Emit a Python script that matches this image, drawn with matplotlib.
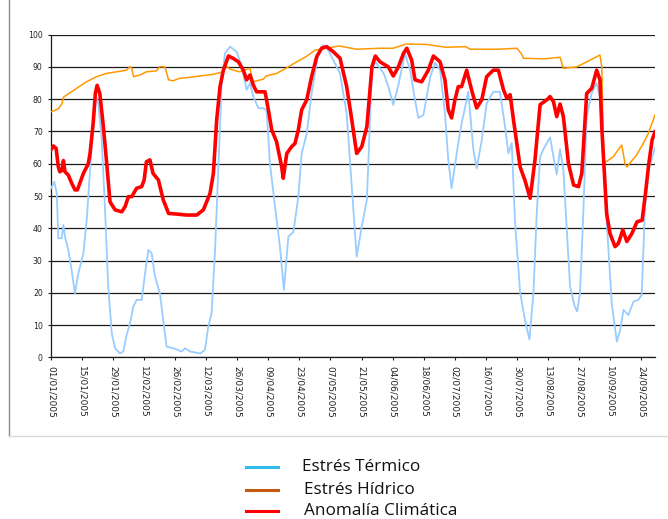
import numpy as np
import matplotlib
matplotlib.use("Agg")
import matplotlib.pyplot as plt
from matplotlib.lines import Line2D

# ---- data (day offsets from 01/01/2005) ----
termico_days = [0, 1.5, 2.6, 3.3, 4.8, 5.6, 6.3, 7.8, 9.3, 10.8, 12.3, 14.6, 16.1, 17.6, 19, 20.3, 21.3,
                22.8, 24.3, 25.8, 27.4, 28.9, 31.1, 32.6, 34.1, 35.6, 37.1, 38.6, 40.9, 42.4, 43.9, 45.4,
                46.9, 49.1, 50.6, 52.1, 55.2, 58.9, 60.4, 62.7, 67.2, 69.4, 70.9, 72.4, 73.9, 75.4, 76.9,
                78.4, 80.7, 83.7, 86, 88.2, 89.7, 91.2, 93.5, 95.7, 97.2, 98.7, 101, 103.2, 105, 107,
                109.3, 111.5, 113, 115.3, 117.5, 120.5, 122.8, 125, 127.3, 130.3, 133.3, 135.6, 137.8,
                140.1, 142.4, 144.7, 146.2, 150, 152.1, 154.3, 156.6, 159.6, 161.9, 164.1, 165.6, 167.9,
                171, 173.2, 175.4, 177.6, 179.1, 180.6, 182.9, 185.1, 186.6, 188.1, 190.4, 191.9, 194.2,
                196.4, 199.4, 202.4, 204.7, 206.2, 207.7, 209.2, 211.5, 213.7, 215.7, 217.5, 219, 220.5,
                222, 225, 226.5, 228, 229.5, 231, 232.5, 234, 236, 237.2, 238.5, 240, 241.5, 243.8, 246,
                247.5, 249, 250.5, 252.8, 255.1, 256.6, 258.1, 260.3, 262.6, 264.8, 266.3, 267.8, 269.3,
                272.3]
termico_vals = [52.4, 54.4, 50.8, 36.9, 36.9, 41, 37.4, 33.3, 27, 19.8, 26, 32.2, 42.6, 58, 71.5, 80.8, 78.7,
                68.4, 46.7, 21.9, 7.4, 2.8, 1.2, 1.8, 6.9, 10.5, 15.7, 17.8, 17.8, 26, 33.3, 32.2,
                25, 19.8, 11.6, 3.3, 2.8, 1.8, 2.8, 1.8, 1.2, 2.3, 9.5, 13.6, 32.2, 58, 83.9,
                94.2, 96.3, 94.7, 90.1, 82.9, 85, 80.8, 77.2, 77.2, 76.7, 60.1, 46.7, 34.3, 20.9, 37.4,
                38.9, 49.8, 63.2, 69.4, 81.8, 94.2, 96.8, 95.2, 92.1, 88, 75.6, 52.9, 31.2,
                40.5, 48.8, 89, 91.6, 88, 83.9, 78.2, 84.4, 94.2, 89, 79.8, 74.2, 75.1,
                87, 91.3, 89, 75.6, 61.2, 52.4, 63.2, 72.5, 77.2, 82.3, 64.5, 58.6, 67.4,
                78.7, 82.3, 82.3, 71.5, 63.2, 66.4, 42, 20, 11.5, 5.5, 20, 45, 62,
                64.5, 68.2, 62.2, 56.7, 64.5, 58, 40, 22, 16, 14.2, 20, 45, 74.6, 82, 85,
                80.8, 60, 42.5, 16.7, 4.9, 8.5, 14.7, 13.1, 17.3, 17.8, 19.3, 46.7, 58,
                64.8]

hidrico_days = [0, 3.3, 5, 5.6, 7, 11.6, 16, 20.6, 25, 29.6, 34, 35.6, 36.4, 37.2, 40, 43, 47.6, 49, 51.4,
                53, 55, 58, 62.7, 67, 73, 77.7, 79, 80.7, 85, 89.7, 91, 95.7, 97, 101.7, 106, 110.8,
                115, 119, 124, 130, 137.8, 148.3, 154.3, 160, 169, 178, 186.9, 189, 201.9, 210, 212,
                213, 222, 229.5, 231, 237, 241.5, 247.5, 248.3, 249.2, 253.5, 257.3, 258.8, 259.6,
                264, 267, 269.3, 272.3]
hidrico_vals = [76.1, 77, 78.7, 80.6, 81.3, 83.4, 85.4, 87, 88, 88.5, 89, 90.1, 89.6, 87, 87.5, 88.5, 88.8,
                90.1, 90, 86, 85.7, 86.5, 86.8, 87.2, 87.7, 88.5, 90.3, 89.3, 88.5, 89.6, 85.4, 86.2,
                87.2, 88, 89.6, 91.6, 93.2, 95.2, 95.8, 96.5, 95.5, 95.8, 95.8, 97.1, 97, 96.1, 96.3,
                95.5, 95.5, 95.8, 94.2, 92.7, 92.5, 93, 89.6, 90, 91.6, 93.7, 90, 60.1, 62.2, 65.8,
                60, 59, 62.7, 66.3, 69.4, 75.1]

anomalia_days = [0, 1, 2.3, 3.3, 4, 5, 5.6, 6.3, 7.8, 9.3, 10.8, 11.9, 13, 14.6, 16.8, 17.6, 19, 20, 20.8,
                 22, 23.6, 25, 26.6, 28.9, 31.9, 33.4, 34.9, 36.4, 38.6, 40.9, 42, 43, 44.6, 46, 48.4,
                 50.6, 53, 56.7, 61, 65.7, 68.7, 71.7, 73.2, 74.7, 76.2, 77.7, 80, 82, 84.5, 86.7, 88.2,
                 89.7, 91.2, 92.7, 95, 96.5, 98, 99.5, 101.7, 104, 104.7, 106.3, 108.5, 110, 111.5, 113,
                 115.3, 117.5, 119.8, 122, 124.3, 127.3, 130.3, 133.3, 135.6, 137.8, 140.1, 142.4,
                 144.7, 146.2, 148.3, 152.1, 154.3, 156.6, 158.9, 160.4, 162.6, 164.1, 167.1, 170.1,
                 172.4, 175.4, 177.6, 179.1, 180.6, 182.1, 183.6, 185.1, 187.4, 189.6, 191.9, 194.2,
                 196.4, 199.4, 201.7, 204, 205.5, 207, 208.5, 211.5, 213.7, 216, 218.2, 220.5, 223.5,
                 225, 226.5, 228, 229.5, 231, 233.3, 235.6, 237.8, 239.3, 241.5, 243.8, 246, 247.5,
                 248.3, 250.5, 252, 254.3, 255.8, 257.8, 259.6, 261.9, 264.2, 266.5, 268, 269.5, 271,
                 272.3]
anomalia_vals = [64.3, 65.5, 64.8, 59, 57.5, 58, 61, 57.5, 56.5, 54, 51.9, 51.9, 54, 57, 60, 63.2, 72.5,
                 81.8, 84.3, 81.8, 71.5, 61, 48.2, 45.7, 45.1, 46.7, 49.8, 49.8, 52.4, 52.9, 55, 60.6,
                 61.2, 57, 55, 48.8, 44.6, 44.4, 44.1, 44.1, 45.7, 50.8, 57, 73.6, 83.9, 89, 93.4,
                 92.7, 91.6, 89, 86, 87.5, 84.4, 82.3, 82.3, 82.3, 76.7, 70.5, 66.8, 59, 55.5, 63.2,
                 65.3, 66.3, 70.5, 76.7, 79.8, 87, 93.2, 95.8, 96.3, 94.7, 92.7, 83.9, 73.6, 63.2,
                 65.3, 71.5, 90.1, 93.4, 91.6, 90, 87.2, 90, 94.2, 95.8, 92.1, 86, 85.4, 89, 93.4,
                 91.6, 86, 76.7, 74.2, 79.8, 83.9, 83.9, 89, 82.9, 77.3, 79.8, 87, 89, 89, 82.9,
                 80.3, 81.4, 73.6, 59, 54.8, 49.3, 61.2, 78.3, 79.8, 80.8, 79.3, 74.6, 78.5, 74.6,
                 60, 53.4, 52.9, 57, 81.8, 83.4, 89, 86, 71.5, 44.6, 38.4, 34.3, 35.3, 39.5, 35.9,
                 38.4, 42, 42.5, 50.8, 60, 67.4, 69.9]

tick_days = [0, 14, 28, 42, 56, 70, 84, 98, 112, 126, 140, 154, 168, 182, 196, 210, 224, 238, 252, 266]
tick_labels = ["01/01/2005", "15/01/2005", "29/01/2005", "12/02/2005", "26/02/2005", "12/03/2005",
               "26/03/2005", "09/04/2005", "23/04/2005", "07/05/2005", "21/05/2005", "04/06/2005",
               "18/06/2005", "02/07/2005", "16/07/2005", "30/07/2005", "13/08/2005", "27/08/2005",
               "10/09/2005", "24/09/2005"]
series_names = ["Estrés Térmico", "Estrés Hídrico", "Anomalía Climática"]

# ---- figure ----
W, H = 668, 519
fig = plt.figure(figsize=(W / 100, H / 100), dpi=100)
ax = fig.add_axes([51 / W, 1 - 357.3 / H, 604 / W, (357.3 - 34.7) / H])

ax.plot(termico_days, termico_vals, color="#99CCFF", lw=1.3, zorder=3)
ax.plot(hidrico_days, hidrico_vals, color="#FF9900", lw=1.1, zorder=4)
ax.plot(anomalia_days, anomalia_vals, color="#FF0000", lw=2.6, zorder=5)

ax.set_xlim(0, 272.3)
ax.set_ylim(0, 100)
ax.set_yticks(range(0, 101, 10))
ax.set_xticks(tick_days)
ax.set_xticklabels(tick_labels, rotation=-90, fontsize=6.5, family="DejaVu Sans", color="#222222")
ax.tick_params(axis="y", labelsize=5.6, length=2, width=0.8, pad=4, colors="#222222")
ax.tick_params(axis="x", length=2.5, width=0.8, pad=4, colors="#222222")
ax.yaxis.grid(True, color="#1a1a1a", lw=0.9)
ax.set_axisbelow(True)
for s in ("top", "right"):
    ax.spines[s].set_visible(False)
for s in ("left", "bottom"):
    ax.spines[s].set_color("#1a1a1a")
    ax.spines[s].set_linewidth(0.9)

# chart-area border lines (left and bottom)
fig.add_artist(Line2D([9 / W, 9 / W], [1, 1 - 436 / H], color="#8a8a8a", lw=1.0))
fig.add_artist(Line2D([9 / W, 1], [1 - 436 / H, 1 - 436 / H], color="#d8d8d8", lw=1.0))

# legend below chart
leg_colors = ["#33BBEE", "#C55A11", "#FF0000"]
leg_y = [467, 490, 511]
leg_text_x = [302, 304, 304]
for name, c, yy, tx in zip(series_names, leg_colors, leg_y, leg_text_x):
    fig.add_artist(Line2D([246 / W, 278 / W], [1 - yy / H, 1 - yy / H], color=c, lw=2.2))
    fig.text(tx / W, 1 - yy / H, name, fontsize=12.3, family="Open Sans", color="#111111",
             va="center", ha="left")

fig.savefig("out.png", dpi=100)
